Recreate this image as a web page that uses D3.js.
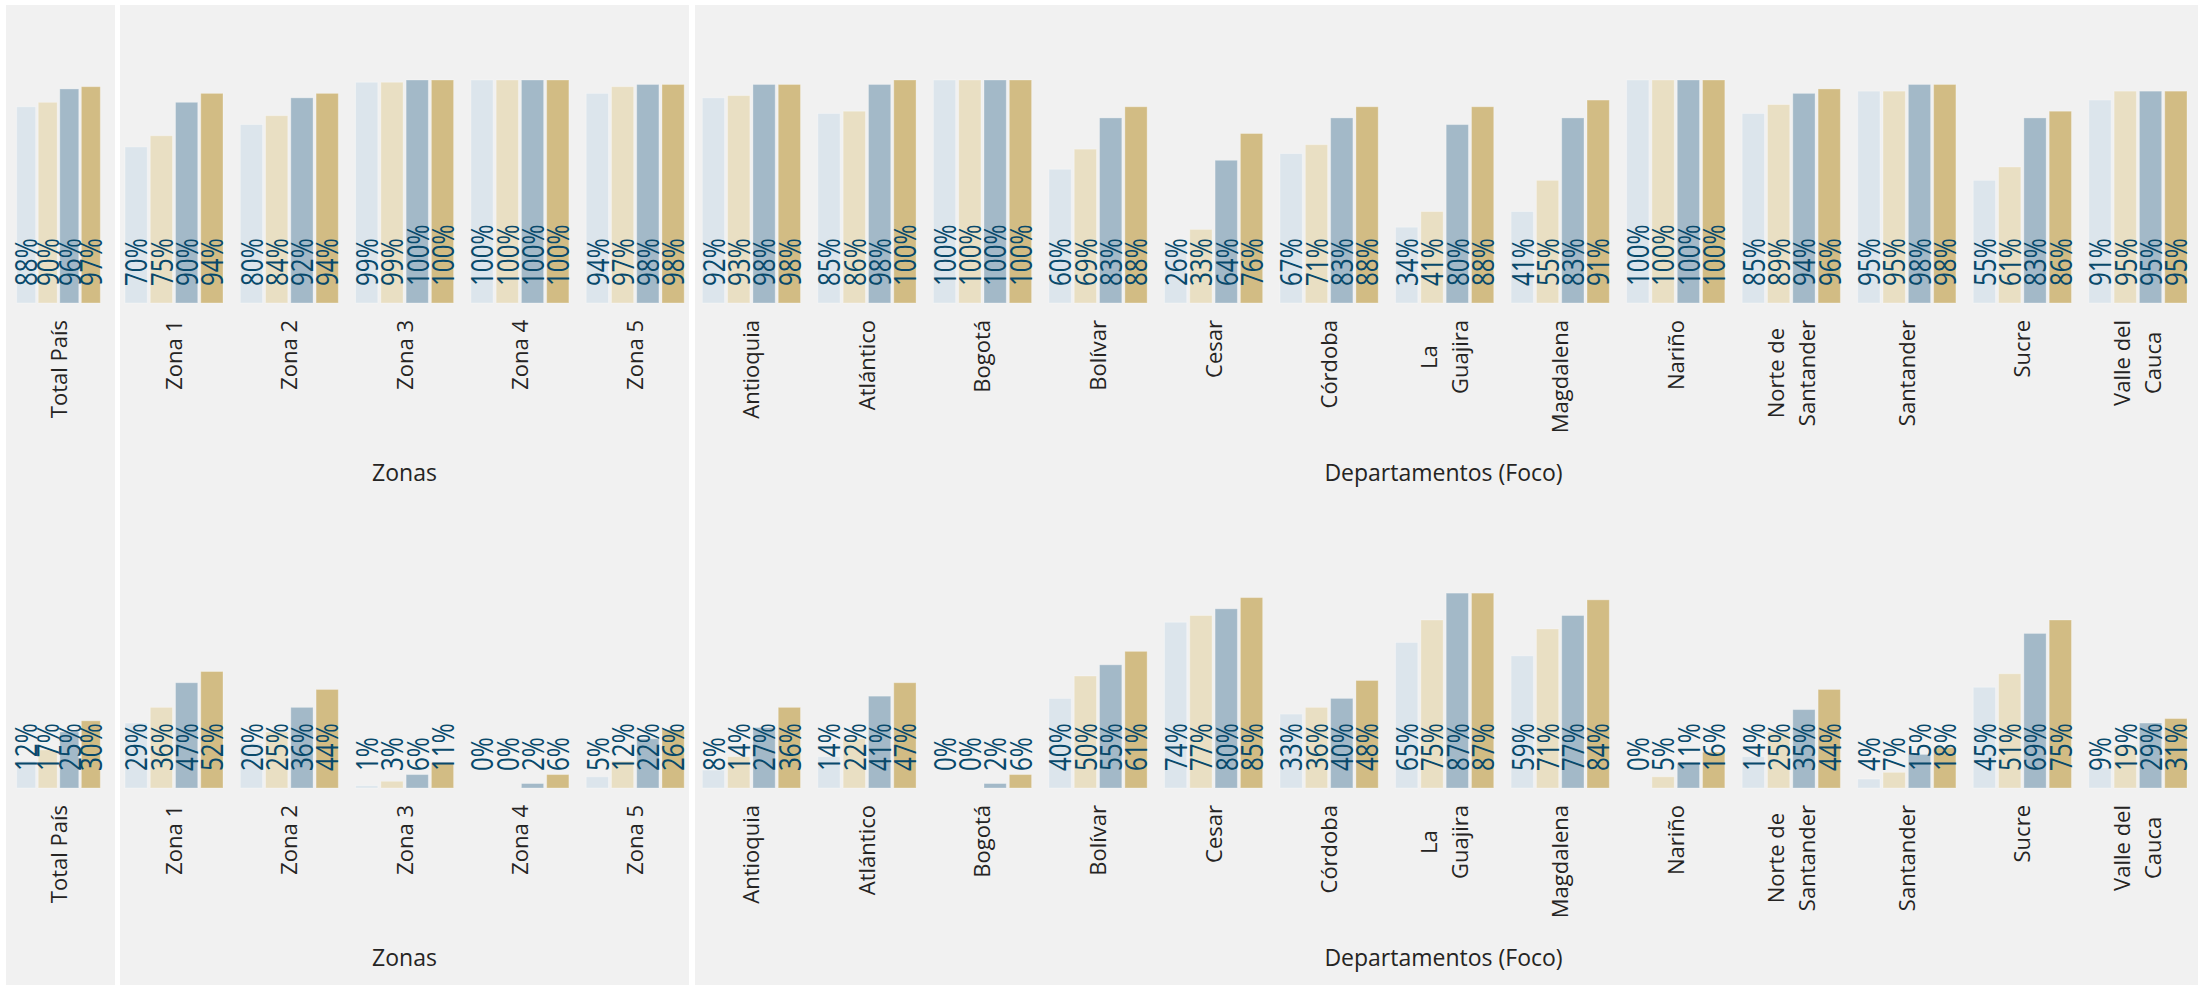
<!DOCTYPE html>
<html lang="es">
<head>
<meta charset="utf-8">
<title>Porcentajes por zona y departamento</title>
<script src="https://d3js.org/d3.v7.min.js"></script>
<style>
  body { margin: 0; background: #fff; }
  svg { display: block; }
  .tick-label { font-family: "Open Sans", sans-serif; font-size: 22px; fill: #252423; }
  .axis-title { font-family: "Open Sans", sans-serif; font-size: 23px; fill: #252423; }
  .value-label { font-family: "Open Sans", sans-serif; font-size: 31px; fill: #08496b; }
</style>
</head>
<body>
<script>
// categories per panel
const totalCats = ["Total País"];
const zonaCats = ["Zona 1", "Zona 2", "Zona 3", "Zona 4", "Zona 5"];
const deptoCats = ["Antioquia", "Atlántico", "Bogotá", "Bolívar", "Cesar", "Córdoba", "La Guajira",
  "Magdalena", "Nariño", "Norte de Santander", "Santander", "Sucre", "Valle del Cauca"];

// category labels that wrap on two lines
const wrappedLabels = {
  "La Guajira": ["La", "Guajira"],
  "Norte de Santander": ["Norte de", "Santander"],
  "Valle del Cauca": ["Valle del", "Cauca"]
};

const series = ["Serie 1", "Serie 2", "Serie 3", "Serie 4"];
const seriesColors = ["#dce5ec", "#e9dfc3", "#a3b9c8", "#d2bc84"];

// upper chart values (%), one row per category, in the order total, zonas, departamentos
const topValues = [
  [88, 90, 96, 97],
  [70, 75, 90, 94],
  [80, 84, 92, 94],
  [99, 99, 100, 100],
  [100, 100, 100, 100],
  [94, 97, 98, 98],
  [92, 93, 98, 98],
  [85, 86, 98, 100],
  [100, 100, 100, 100],
  [60, 69, 83, 88],
  [26, 33, 64, 76],
  [67, 71, 83, 88],
  [34, 41, 80, 88],
  [41, 55, 83, 91],
  [100, 100, 100, 100],
  [85, 89, 94, 96],
  [95, 95, 98, 98],
  [55, 61, 83, 86],
  [91, 95, 95, 95]
];

// lower chart values (%)
const bottomValues = [
  [12, 17, 25, 30],
  [29, 36, 47, 52],
  [20, 25, 36, 44],
  [1, 3, 6, 11],
  [0, 0, 2, 6],
  [5, 12, 22, 26],
  [8, 14, 27, 36],
  [14, 22, 41, 47],
  [0, 0, 2, 6],
  [40, 50, 55, 61],
  [74, 77, 80, 85],
  [33, 36, 40, 48],
  [65, 75, 87, 87],
  [59, 71, 77, 84],
  [0, 5, 11, 16],
  [14, 25, 35, 44],
  [4, 7, 15, 18],
  [45, 51, 69, 75],
  [9, 19, 29, 31]
];

const width = 2198, height = 988;
const allCats = totalCats.concat(zonaCats, deptoCats);

// panel layout
const panels = [
  { cats: totalCats, x0: 6, x1: 115, range: [9.3, 107.7], title: "" },
  { cats: zonaCats, x0: 120, x1: 689, range: [125, 684.2], title: "Zonas" },
  { cats: deptoCats, x0: 695, x1: 2198, range: [702.3, 2187], title: "Departamentos (Foco)" }
];
const rows = [
  { values: topValues, base: 303, top: 80 },
  { values: bottomValues, base: 788, top: 564 }
];

const svg = d3.select("body").append("svg")
  .attr("width", width)
  .attr("height", height);

svg.selectAll(".panel-bg")
  .data(panels)
  .enter().append("rect")
  .attr("class", "panel-bg")
  .attr("x", d => d.x0)
  .attr("y", 5)
  .attr("width", d => d.x1 - d.x0)
  .attr("height", 980)
  .attr("fill", "#f1f1f1");

const xInner = d3.scaleBand().domain(series).paddingInner(0.12).paddingOuter(0);

rows.forEach(row => {
  const y = d3.scaleLinear().domain([0, 100]).range([row.base, row.top]);

  panels.forEach(p => {
    const x = d3.scaleBand().domain(p.cats).range(p.range).paddingInner(0.15).paddingOuter(0);
    xInner.range([0, x.bandwidth()]);

    const g = svg.append("g");
    const groups = g.selectAll(".grp")
      .data(p.cats)
      .enter().append("g")
      .attr("class", "grp")
      .attr("transform", c => `translate(${x(c)},0)`);

    const barData = c => series.map((s, i) => ({ s, i, v: row.values[allCats.indexOf(c)][i] }));

    groups.selectAll("rect")
      .data(barData)
      .enter().append("rect")
      .attr("x", d => xInner(d.s))
      .attr("width", xInner.bandwidth())
      .attr("y", d => y(d.v))
      .attr("height", d => y(0) - y(d.v))
      .attr("fill", d => seriesColors[d.i])
      .attr("stroke", "#ffffff")
      .attr("stroke-opacity", 0.3)
      .attr("stroke-width", 1);

    // value labels sit at the foot of each bar, reading upwards
    groups.selectAll(".value-label")
      .data(barData)
      .enter().append("text")
      .attr("class", "value-label")
      .attr("transform", d => `translate(${xInner(d.s) + xInner.bandwidth() / 2 + 11.3},${row.base - 17}) rotate(-90) scale(0.78,1)`)
      .text(d => d.v + "%");

    // category labels
    groups.each(function(c) {
      const lines = wrappedLabels[c] || [c];
      const cx = x.bandwidth() / 2;
      const texts = d3.select(this).selectAll(".tick-label")
        .data(lines)
        .enter().append("text")
        .attr("class", "tick-label")
        .attr("text-anchor", "middle")
        .text(t => t);
      const maxLen = d3.max(texts.nodes(), n => n.getComputedTextLength());
      const cy = row.base + 17 + maxLen / 2;
      texts.attr("transform", (t, i) =>
        `translate(${cx + 8 + (i - (lines.length - 1) / 2) * 31},${cy}) rotate(-90)`);
    });

    if (p.title) {
      g.append("text")
        .attr("class", "axis-title")
        .attr("x", (p.x0 + p.x1) / 2 - (p.x1 === 2198 ? 3 : 0))
        .attr("y", row.base + 178)
        .attr("text-anchor", "middle")
        .text(p.title);
    }
  });
});
</script>
</body>
</html>
